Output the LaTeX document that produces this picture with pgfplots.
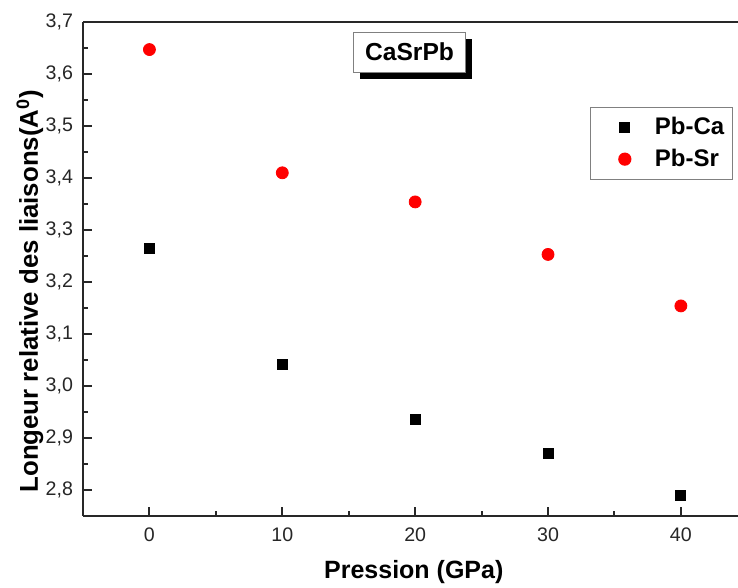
\documentclass[border=0pt]{standalone}
\usepackage{fontspec}
\setmainfont{Liberation Sans}
\usepackage{pgfplots}
\pgfplotsset{compat=1.18}
\usetikzlibrary{shadows}
\definecolor{axcol}{RGB}{40,40,40}
\begin{document}
\begin{tikzpicture}[x=1pt,y=1pt]
\useasboundingbox (0,0) rectangle (369,294);
\begin{axis}[
  at={(41.5pt,36pt)}, anchor=south west,
  scale only axis, width=327.5pt, height=247pt,
  xmin=-5, xmax=44.3, ymin=2.75, ymax=3.7,
  axis x line*=bottom, axis y line*=left,
  axis line style={line width=1pt, axcol},
  xtick={0,10,20,30,40}, minor xtick={-5,5,15,25,35},
  ytick={2.8,2.9,3.0,3.1,3.2,3.3,3.4,3.5,3.6,3.7},
  minor ytick={2.75,2.85,2.95,3.05,3.15,3.25,3.35,3.45,3.55,3.65},
  xtick align=inside, ytick align=inside,
  major tick length=4.5pt, minor tick length=2.5pt,
  every tick/.style={line width=1pt, axcol},
  /pgf/number format/assume math mode=true,
  tick label style={font=\fontsize{9.8}{11}\selectfont, text=black!85},
  yticklabel style={/pgf/number format/use comma, /pgf/number format/fixed,
    /pgf/number format/fixed zerofill, /pgf/number format/precision=1, xshift=-1.5pt},
  xticklabel style={yshift=-2.5pt},
  every axis y label/.style={at={(axis description cs:-0.081,0.455)}, rotate=90, anchor=center,
    font=\bfseries\fontsize{12.9}{15}\selectfont},
  every axis x label/.style={at={(axis description cs:0.505,-0.113)}, anchor=center,
    font=\bfseries\fontsize{12.5}{15}\selectfont},
  xlabel={Pression (GPa)},
  ylabel={Longeur relative des liaisons(A\textsuperscript{0})},
  legend style={at={(0.992,0.828)}, anchor=north east, draw=gray, line width=0.6pt,
    font=\bfseries\fontsize{12}{14.5}\selectfont, inner xsep=2pt, inner ysep=3pt,
    row sep=1.5pt},
  legend image code/.code={%
    \path[draw=none, fill=none] (0pt,-3pt) rectangle (28pt,3pt);
    \draw[#1] plot coordinates {(15pt,0pt)};},
  legend cell align=left,
]
\addplot[only marks, mark=square*, mark size=2.5pt, color=black] coordinates {
  (0,3.265) (10,3.041) (20,2.936) (30,2.870) (40,2.790)};
\addlegendentry{Pb-Ca}
\addplot[only marks, mark=*, mark size=3pt, color=red] coordinates {
  (0,3.647) (10,3.410) (20,3.354) (30,3.253) (40,3.154)};
\addlegendentry{Pb-Sr}
\draw[line width=1pt, axcol] (rel axis cs:0,1) -- (rel axis cs:1,1);
\node[draw=gray, line width=0.5pt, fill=white,
  drop shadow={shadow xshift=3.3pt, shadow yshift=-3.3pt, opacity=1, fill=black},
  font=\bfseries\fontsize{12.3}{14}\selectfont, inner sep=0pt,
  minimum width=56pt, minimum height=20pt] at (rel axis cs:0.4985,0.939) {CaSrPb};
\end{axis}
\end{tikzpicture}
\end{document}
